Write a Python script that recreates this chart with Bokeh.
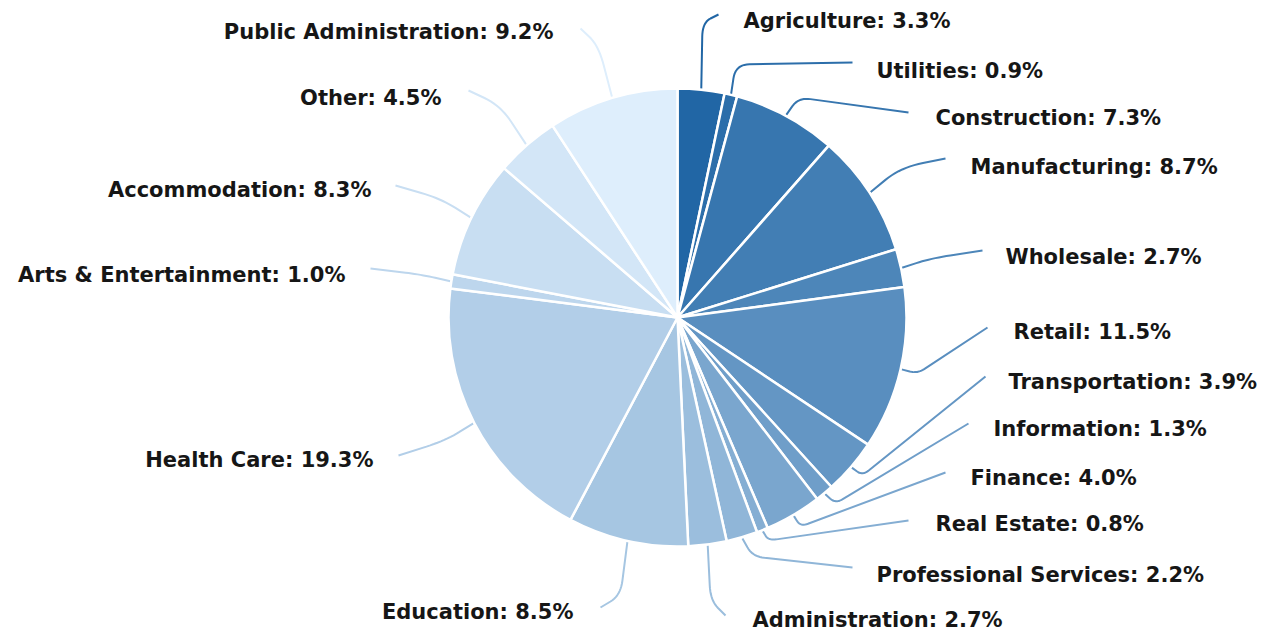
import math
from bokeh.plotting import figure
from bokeh.models import Range1d, ColumnDataSource
from bokeh.embed import file_html
from bokeh.resources import INLINE
from bokeh.core.properties import value

# ---------------- data ----------------
sectors = ["Agriculture", "Utilities", "Construction", "Manufacturing", "Wholesale", "Retail",
           "Transportation", "Information", "Finance", "Real Estate", "Professional Services",
           "Administration", "Education", "Health Care", "Arts & Entertainment", "Accommodation",
           "Other", "Public Administration"]
shares = [3.3, 0.9, 7.3, 8.7, 2.7, 11.5, 3.9, 1.3, 4.0, 0.8, 2.2, 2.7, 8.5, 19.3, 1.0, 8.3, 4.5, 9.2]

# ---------------- layout (page pixel coordinates, y downward) ----------------
CX, CY, R = 677, 317, 229
# label anchor x, y, alignment
label_x = [743, 876, 935, 970, 1005, 1013, 1008, 993, 970, 935, 876, 752, 573, 373, 345, 371, 441, 553]
label_y = [20, 70, 117, 166, 256, 331, 381, 428, 477, 523, 574, 619, 611, 459, 274, 189, 97, 31]
label_side = ["left"] * 12 + ["right"] * 6
# leader elbows / ends / corner radii
elbow = [(702, 22), (735, 64), (798, 97), (900, 167), (930, 258), (917, 373), (862, 475),
         (835, 503), (800, 526), (768, 540), (752, 556), (710, 600), (620, 595), (445, 440),
         (420, 274), (440, 198), (500, 105), (598, 45)]
ends = [(718, 14), (852, 62), (908, 112), (945, 158), (982, 250), (987, 327), (985, 376),
        (968, 423), (945, 472), (908, 520), (852, 567), (725, 615), (600, 607), (398, 455),
        (370, 268), (395, 185), (468, 90), (580, 28)]
corner = [14, 14, 12, 25, 20, 8, 8, 8, 8, 8, 12, 15, 15, 20, 15, 20, 20, 20]

W, H = 1264, 630

# slice colours: dark to light blue
c0 = (33, 102, 165)
c1 = (222, 238, 252)
n = len(sectors)
colors = []
for i in range(n):
    t = i / (n - 1)
    rgb = tuple(int(round(a + (b - a) * t)) for a, b in zip(c0, c1))
    colors.append("#%02x%02x%02x" % rgb)

total = sum(shares)
starts, stops, mids = [], [], []
cum = 0.0
for s in shares:
    a0 = cum / total
    cum += s
    a1 = cum / total
    starts.append(math.pi / 2 - 2 * math.pi * a0)
    stops.append(math.pi / 2 - 2 * math.pi * a1)
    mids.append((a0 + a1) / 2 * 2 * math.pi)

labels = [f"{nm}: {v:.1f}%" for nm, v in zip(sectors, shares)]

p = figure(width=W, height=H, output_backend="svg", toolbar_location=None,
           x_range=Range1d(0, W), y_range=Range1d(-H, 0), min_border=0)
p.axis.visible = False
p.grid.visible = False
p.outline_line_color = None
p.background_fill_color = "white"
p.border_fill_color = "white"

# leader lines
def leader(S, K, E, r):
    def toward(P, Q, d):
        dx, dy = Q[0] - P[0], Q[1] - P[1]
        L = math.hypot(dx, dy)
        f = min(d / L, 0.5) if L > 0 else 0
        return (P[0] + dx * f, P[1] + dy * f)
    A = toward(K, S, r)
    B = toward(K, E, r)
    xs, ys = [S[0]], [S[1]]
    for k in range(11):
        t = k / 10
        x = (1 - t) ** 2 * A[0] + 2 * (1 - t) * t * K[0] + t ** 2 * B[0]
        y = (1 - t) ** 2 * A[1] + 2 * (1 - t) * t * K[1] + t ** 2 * B[1]
        xs.append(x)
        ys.append(y)
    xs.append(E[0])
    ys.append(E[1])
    return xs, [-y for y in ys]

lxs, lys = [], []
for i in range(n):
    S = (CX + (R + 1) * math.sin(mids[i]), CY - (R + 1) * math.cos(mids[i]))
    xs, ys = leader(S, elbow[i], ends[i], corner[i])
    lxs.append(xs)
    lys.append(ys)
p.multi_line(xs=lxs, ys=lys, line_color=colors, line_width=2)

src = ColumnDataSource(dict(sector=sectors, share=shares, start=starts, stop=stops, color=colors))
p.wedge(x=CX, y=-CY, radius=R, start_angle="start", end_angle="stop", direction="clock",
        fill_color="color", line_color="white", line_width=2.5, source=src)

for side in ("left", "right"):
    idx = [i for i in range(n) if label_side[i] == side]
    p.text(x=[label_x[i] for i in idx], y=[-label_y[i] for i in idx],
           text=[labels[i] for i in idx], text_align=side, text_baseline="middle",
           text_font=value("DejaVu Sans"), text_font_style="bold", text_font_size="21px",
           text_color="#161616")

open("out.html", "w").write(file_html(p, INLINE))
